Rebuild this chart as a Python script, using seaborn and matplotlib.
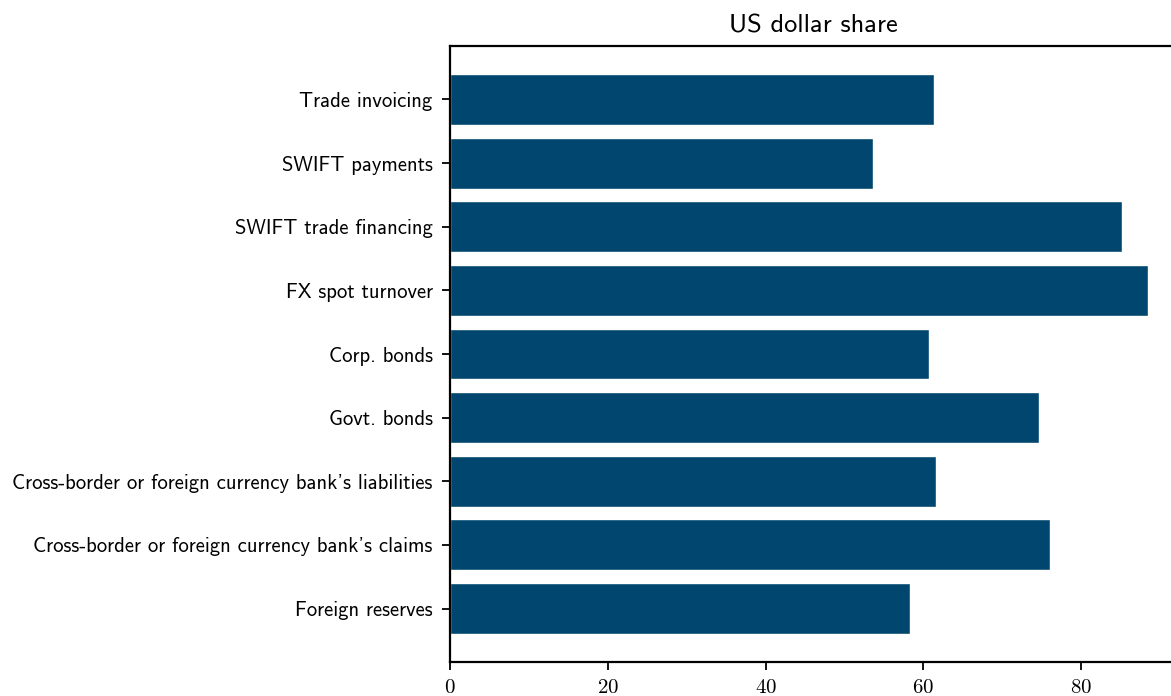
import matplotlib
matplotlib.use("Agg")
import matplotlib.pyplot as plt
from matplotlib.ticker import FuncFormatter
import seaborn as sns
import pandas as pd

categories = [
    "Trade invoicing",
    "SWIFT payments",
    "SWIFT trade financing",
    "FX spot turnover",
    "Corp. bonds",
    "Govt. bonds",
    "Cross-border or foreign currency bank's liabilities",
    "Cross-border or foreign currency bank's claims",
    "Foreign reserves",
]
usd_share = [61.3, 53.6, 85.2, 88.4, 60.7, 74.7, 61.6, 76.0, 58.3]
x_ticks = [0, 20, 40, 60, 80]

sns.set_style("ticks")
plt.rcParams["mathtext.fontset"] = "cm"
plt.rcParams["axes.unicode_minus"] = False
plt.rcParams["text.color"] = "black"
plt.rcParams["xtick.color"] = "black"
plt.rcParams["ytick.color"] = "black"

df = pd.DataFrame({"category": categories, "share": usd_share})

fig = plt.figure(figsize=(11.71, 6.96), dpi=100)
W, H = 1171, 696
left, right, top, bottom = 450, 1176, 46, 662
ax = fig.add_axes([left / W, 1 - bottom / H, (right - left) / W, (bottom - top) / H])

sns.barplot(data=df, x="share", y="category", orient="h", color="#01466e",
            saturation=1, width=0.8, ax=ax)

ax.set_xlim(0, 92)
ax.set_ylim(len(categories) - 1 + 0.84, -0.84)
ax.set_xticks(x_ticks)
ax.xaxis.set_major_formatter(FuncFormatter(lambda v, p: f"${v:g}$"))
ax.set_xlabel("")
ax.set_ylabel("")

for lab in ax.get_yticklabels():
    lab.set_fontfamily("cmss10")
    lab.set_fontsize(14.9)
    lab.set_color("black")
for lab in ax.get_xticklabels():
    lab.set_fontsize(15)
    lab.set_color("black")

ax.tick_params(axis="both", direction="out", length=6, width=1.3, color="black")
ax.tick_params(axis="y", pad=6.5)
ax.tick_params(axis="x", pad=4.5)
for s in ax.spines.values():
    s.set_linewidth(1.6)
    s.set_color("black")

ax.set_title("US dollar share", fontfamily="cmss10", fontsize=19, pad=10,
             color="black")

fig.savefig("out.png", dpi=100)
